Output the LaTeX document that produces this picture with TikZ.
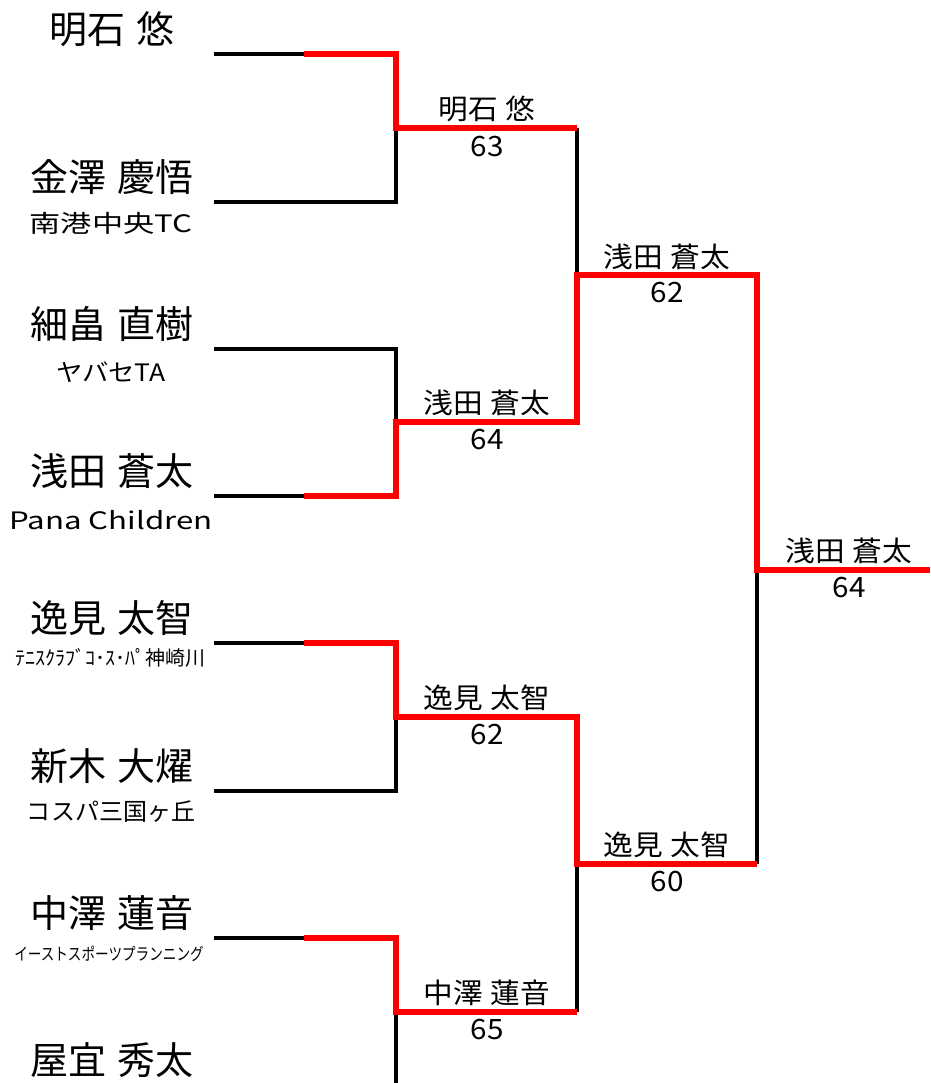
\documentclass[tikz,border=0pt]{standalone}
\usepackage{fontspec}
\setmainfont{Noto Sans CJK JP}
\newfontfamily\clubfont{Noto Sans CJK JP}
\newfontfamily\midfont[FakeStretch=1.1]{Noto Sans CJK JP}
\newfontfamily\widefont[FakeStretch=1.3]{Noto Sans CJK JP}
\newfontfamily\narrowfont[FakeStretch=0.8]{Noto Sans CJK JP}
\newfontfamily\wonfont[FakeStretch=1.06]{Noto Sans CJK JP}
\newcommand\namefont{\fontsize{38}{38}\selectfont\spaceskip=11pt\relax}
\newcommand\victorfont{\wonfont\fontsize{28}{28}\selectfont\spaceskip=8pt\relax}

\tikzset{
	loser/.style={line width=3.2pt, black},
	winner/.style={line width=5.6pt, red},
	player/.style={inner sep=0pt, font=\namefont},
	club/.style={inner sep=0pt, font=#1\fontsize{24}{24}\selectfont},
	club/.default=\clubfont,
	victor/.style={inner sep=0pt, font=\victorfont},
	score/.style={victor}
}

\begin{document}
\begin{tikzpicture}[x=1pt, y=-1pt]
	\useasboundingbox (0,0) rectangle (930,1083);

	%players
	\node[player] (n1) at (112,29) {明石 悠};
	\node[player] (n2) at (112,177) {金澤 慶悟};
	\node[player] (n3) at (112,324) {細畠 直樹};
	\node[player] (n4) at (112,471) {浅田 蒼太};
	\node[player] (n5) at (112,618) {逸見 太智};
	\node[player] (n6) at (112,766) {新木 大燿};
	\node[player] (n7) at (112,913) {中澤 蓮音};
	\node[player] (n8) at (112,1060) {屋宜 秀太};

	%clubs
	\node[club=\widefont] (k2) at (111,223) {南港中央TC};
	\node[club=\midfont] (k3) at (111,372) {ヤバセTA};
	\node[club=\widefont] (k4) at (111,520) {Pana Children};
	\node[club, font=\clubfont\fontsize{20}{20}\selectfont] (k5) at (110,658) {ﾃﾆｽｸﾗﾌﾞｺ･ｽ･ﾊﾟ神崎川};
	\node[club] (k6) at (111,812) {コスパ三国ヶ丘};
	\node[club, font=\narrowfont\fontsize{17}{17}\selectfont] (k7) at (109,954) {イーストスポーツプランニング};

	%bracket points
	\foreach \i/\y in {1/54, 2/202, 3/349, 4/496, 5/643, 6/791, 7/938, 8/1085}{
		\coordinate (p\i) at (214,\y);
		\coordinate (q\i) at (304,\y);
	}
	\foreach \i/\y in {1/128, 2/422, 3/717, 4/1012}{
		\coordinate (a\i) at (396,\y);
		\coordinate (b\i) at (577,\y);
	}
	\coordinate (c1) at (577,275);
	\coordinate (d1) at (757,275);
	\coordinate (c2) at (577,864);
	\coordinate (d2) at (757,864);
	\coordinate (f) at (757,570);
	\coordinate (g) at (930,570);

	%paths
	\draw[loser] (p1) -- (q1);
	\draw[loser] (p2) -| (a1);
	\draw[loser] (p3) -| (a2);
	\draw[loser] (p4) -- (q4);
	\draw[loser] (p5) -- (q5);
	\draw[loser] (p6) -| (a3);
	\draw[loser] (p7) -- (q7);
	\draw[loser] (p8) -| (a4);
	\draw[loser] (b1) -- (c1);
	\draw[loser] (b4) -- (c2);
	\draw[loser] (d2) -- (f);

	\draw[winner] (q1) -| (a1) -- (b1);
	\draw[winner] (q4) -| (a2) -- (b2) -- (c1) -- (d1) -- (f) -- (g);
	\draw[winner] (q5) -| (a3) -- (b3) -- (c2) -- (d2);
	\draw[winner] (q7) -| (a4) -- (b4);

	%results
	\node[victor] (v1) at (487,109) {明石 悠};
	\node[score] (s1) at (487,147) {63};
	\node[victor] (v2) at (487,403) {浅田 蒼太};
	\node[score] (s2) at (487,440) {64};
	\node[victor] (v3) at (487,698) {逸見 太智};
	\node[score] (s3) at (487,735) {62};
	\node[victor] (v4) at (487,993) {中澤 蓮音};
	\node[score] (s4) at (487,1030) {65};
	\node[victor] (v5) at (667,257) {浅田 蒼太};
	\node[score] (s5) at (667,293) {62};
	\node[victor] (v6) at (667,845) {逸見 太智};
	\node[score] (s6) at (667,882) {60};
	\node[victor] (v7) at (849,551) {浅田 蒼太};
	\node[score] (s7) at (849,588) {64};

\end{tikzpicture}
\end{document}
